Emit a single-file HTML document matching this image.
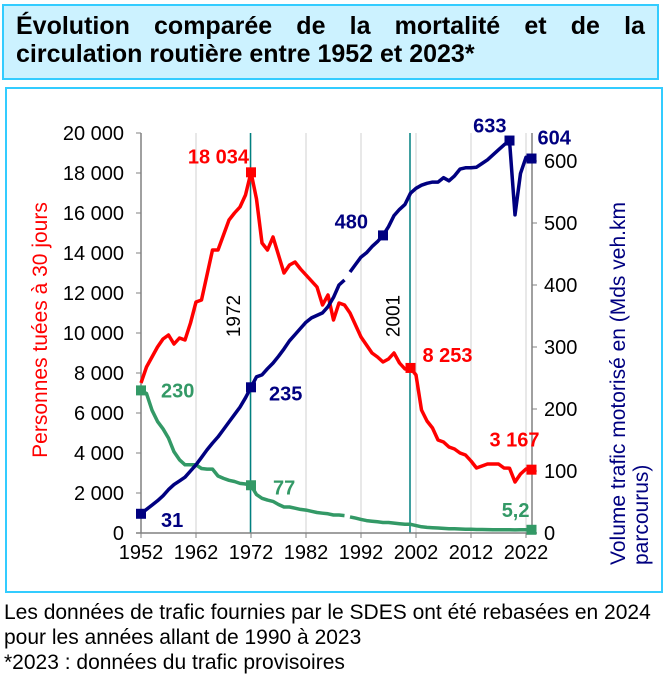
<!DOCTYPE html>
<html><head><meta charset="utf-8">
<style>
body{margin:0;width:664px;height:679px;background:#fff;font-family:"Liberation Sans",Arial,sans-serif;overflow:hidden;position:relative}
#title{position:absolute;left:2px;top:4px;background:#ccf2ff;border:2px solid #33ccff;font-weight:bold;font-size:25px;line-height:28px;padding:6px 0 0 12px;box-sizing:border-box;width:657px;height:76px}
#title .l1{display:flex;justify-content:space-between;padding-right:12px}
#title .l2{white-space:nowrap}
#chartbox{position:absolute;left:5px;top:87px;width:658px;height:506px;border:2px solid #33ccff;box-sizing:border-box}
#foot{position:absolute;left:4px;top:600px;font-size:21px;line-height:25px;color:#000;white-space:nowrap}
svg{position:absolute;left:0;top:0}
</style></head><body>
<div id="title"><div class="l1"><span>Évolution</span><span>comparée</span><span>de</span><span>la</span><span>mortalité</span><span>et</span><span>de</span><span>la</span></div><div class="l2">circulation routière entre 1952 et 2023*</div></div>
<div id="chartbox"></div>
<div id="foot">Les données de trafic fournies par le SDES ont été rebasées en 2024<br>pour les années allant de 1990 à 2023<br>*2023 : données du trafic provisoires</div>
<svg id="chart" width="664" height="679"></svg>
<script>
const years=[];for(let y=1952;y<=2023;y++)years.push(y);
const deaths=[7500,8300,8800,9300,9700,9900,9450,9750,9650,10500,11550,11650,12900,14150,14150,14900,15650,16000,16300,16900,18034,16700,14500,14150,14800,13900,13000,13400,13550,13200,12900,12600,12300,11400,11900,10650,11500,11400,11000,10400,9800,9400,9000,8800,8550,8700,9000,8500,8200,8253,7900,6150,5600,5250,4650,4550,4300,4200,4000,3900,3600,3250,3350,3450,3450,3450,3250,3240,2550,2950,3200,3167];
const traffic=[31,38,45,52,60,70,78,84,90,100,110,122,134,145,155,167,179,191,203,218,235,252,255,265,274,285,297,310,320,330,340,347,351,355,365,380,400,408,421,433,445,452,462,470,480,494,512,522,530,548,556,561,564,566,566,573,568,576,587,589,589,590,596,602,610,618,626,633,513,580,606,604];
const rate=[230,225,198,180,168,153,131,118,110,110,110,104,103,103,92,88,85,83,80,79,77,62,56,53,51,46,42,42,40,38,37,35,33,32,31,29,29,28,26,24,22,20,19,18,17,17,16,15,14,14,12,10,9,8.5,8,7.5,7,6.8,6.5,6.2,6,5.7,5.6,5.5,5.4,5.3,5.2,5.1,5,5.1,5.2,5.2];
const breakYear=1990;
const leftTicks=["0","2 000","4 000","6 000","8 000","10 000","12 000","14 000","16 000","18 000","20 000"];
const rightTicks=["0","100","200","300","400","500","600"];
const xTicks=[1952,1962,1972,1982,1992,2002,2012,2022];
const deathMarks=[[1972,"18 034"],[2001,"8 253"],[2023,"3 167"]];
const trafficMarks=[[1952,"31"],[1972,"235"],[1996,"480"],[2019,"633"],[2023,"604"]];
const rateMarks=[[1952,"230"],[1972,"77"],[2023,"5,2"]];
const refLines=[[1972,"1972"],[2001,"2001"]];

const NS="http://www.w3.org/2000/svg";const svg=document.getElementById('chart');
const X=y=>141+(y-1952)*5.5;
const YL=v=>533-v*0.02;
const YR=v=>533-v*0.62;
function el(t,a,txt){const e=document.createElementNS(NS,t);for(const k in a)e.setAttribute(k,a[k]);if(txt!=null)e.textContent=txt;svg.appendChild(e);return e;}
function txt(x,y,s,a,rot){const at=Object.assign({x:0,y:0},a);at.transform=`translate(${x} ${y})`+(rot?` rotate(-90)`:'');return el('text',at,s);}
xTicks.forEach(t=>{if(t>1952){const g=el('line',{x1:X(t),x2:X(t),y1:133,y2:533,stroke:'#d0d0d0','stroke-width':1});

}});
refLines.forEach(r=>{const l=el('line',{x1:X(r[0])-0.5,x2:X(r[0])-0.5,y1:133,y2:533,stroke:'#008080','stroke-width':1.5});


const t=txt(X(r[0])-11,316,r[1],{'text-anchor':'middle','font-size':19,fill:'#000'},true);

});
el('line',{x1:141,x2:141,y1:133,y2:533,stroke:'#808080','stroke-width':1.5});
el('line',{x1:532,x2:532,y1:133,y2:533,stroke:'#808080','stroke-width':1.5});
el('line',{x1:136,x2:537,y1:533,y2:533,stroke:'#808080','stroke-width':1.5});
leftTicks.forEach((t,i)=>{const v=i*2000;el('line',{x1:136,x2:141,y1:YL(v),y2:YL(v),stroke:'#808080'});
const e=txt(124,YL(v)+7,t,{'text-anchor':'end','font-size':20,fill:'#000'});

});
rightTicks.forEach((t,i)=>{const v=i*100;el('line',{x1:532,x2:537,y1:YR(v),y2:YR(v),stroke:'#808080'});
const e=txt(544,YR(v)+7,t,{'font-size':20,fill:'#000'});

});
xTicks.forEach(t=>{el('line',{x1:X(t),x2:X(t),y1:533,y2:538,stroke:'#808080'});
const e=txt(X(t),559,String(t),{'text-anchor':'middle','font-size':20,fill:'#000'});

});
let at=el('text',{x:47,y:330,transform:'rotate(-90 47 330)','text-anchor':'middle','font-size':21,fill:'#ff0000'},'Personnes tuées à 30 jours');


at=el('text',{x:625,y:565,transform:'rotate(-90 625 565)','font-size':21,fill:'#000080'},'Volume trafic motorisé en (Mds veh.km');


at=el('text',{x:648,y:565,transform:'rotate(-90 648 565)','font-size':21,fill:'#000080'},'parcourus)');


function series(vals,Y,color,name,brk){let d='';vals.forEach((v,i)=>{const yr=years[i];const cmd=(i===0||(brk&&yr===brk))?'M':'L';d+=cmd+X(yr).toFixed(1)+','+Y(v).toFixed(1)+' ';});
const p=el('path',{d:d,fill:'none',stroke:color,'stroke-width':3.5,'stroke-linejoin':'round'});

}
series(rate,YR,'#339966','series-mortality-rate',breakYear);
series(deaths,YL,'#ff0000','series-deaths',null);
series(traffic,YR,'#000080','series-traffic',breakYear);
function marks(list,vals,Y,color,name,offs){list.forEach((m,k)=>{const i=years.indexOf(m[0]);const x=X(m[0]),y=Y(vals[i]);
const r=el('rect',{x:x-5,y:y-5,width:10,height:10,fill:color});


const t=txt(x+offs[k][0],y+offs[k][1],m[1],{'text-anchor':offs[k][2]||'start','font-size':20,'font-weight':'bold',fill:color});

});}
marks(deathMarks,deaths,YL,'#ff0000','deaths',[[-2,-9,'end'],[12,-6],[8,-23,'end']]);
marks(trafficMarks,traffic,YR,'#000080','traffic',[[20,13],[18,13],[-15,-7,'end'],[-3,-8,'end'],[6,-14]]);
marks(rateMarks,rate,YR,'#339966','rate',[[20,7],[22,9],[-2,-13,'end']]);
</script>
</body></html>
